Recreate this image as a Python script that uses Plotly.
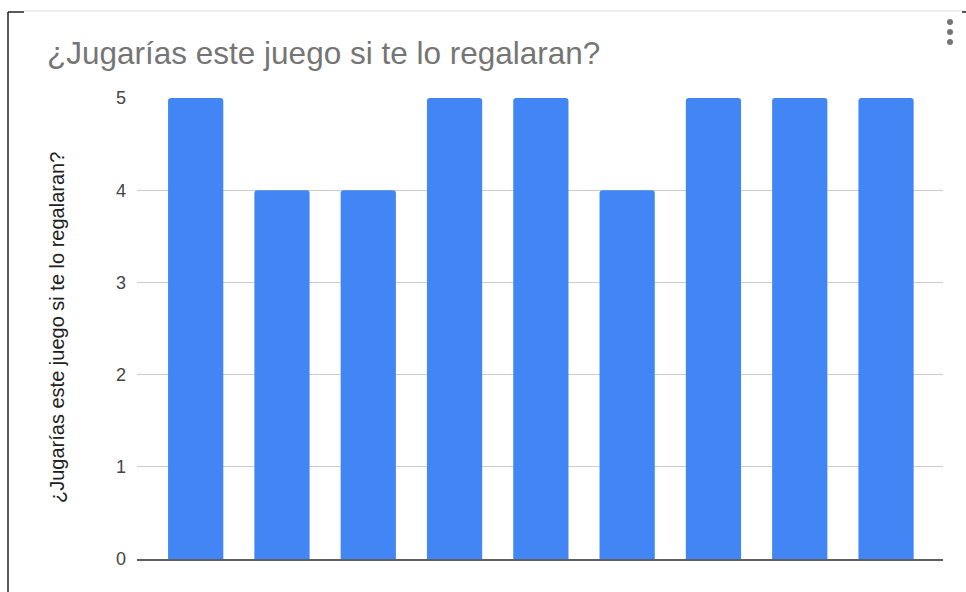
import plotly.graph_objects as go

# Responses per participant
respondents = ["1", "2", "3", "4", "5", "6", "7", "8", "9"]
scores = [5, 4, 4, 5, 5, 4, 5, 5, 5]
y_ticks = [0, 1, 2, 3, 4, 5]

title_text = "¿Jugarías este juego si te lo regalaran?"
axis_title = "¿Jugarías este juego si te lo regalaran?"

FONT = "Liberation Sans, Arial, sans-serif"

W, H = 966, 592
L, R, T, B = 137, 23, 98, 33
PW, PH = W - L - R, H - T - B


def px(x):
    return (x - L) / PW


def py(y):
    return (H - B - y) / PH


fig = go.Figure(
    go.Bar(
        x=respondents,
        y=scores,
        marker=dict(color="#4285F4", cornerradius=3, line=dict(width=0)),
        width=0.64,
        hoverinfo="x+y",
    )
)

shapes = [
    # card border fragments
    dict(type="line", xref="paper", yref="paper", x0=px(24), x1=px(966), y0=py(11), y1=py(11),
         line=dict(color="#e0e0e0", width=1)),
    dict(type="line", xref="paper", yref="paper", x0=px(8), x1=px(24), y0=py(12), y1=py(12),
         line=dict(color="#222", width=1.5)),
    dict(type="line", xref="paper", yref="paper", x0=px(8), x1=px(8), y0=py(12), y1=py(592),
         line=dict(color="#222", width=1.5)),
    dict(type="line", xref="paper", yref="paper", x0=px(962), x1=px(966), y0=py(12), y1=py(12),
         line=dict(color="#222", width=1.5)),
]
# overflow menu dots
for cy in (22, 32, 42):
    shapes.append(dict(type="circle", xref="paper", yref="paper",
                       x0=px(947), x1=px(953), y0=py(cy + 3), y1=py(cy - 3),
                       fillcolor="#757575", line=dict(width=0)))

fig.update_layout(
    width=W, height=H,
    margin=dict(l=L, r=R, t=T, b=B),
    paper_bgcolor="white", plot_bgcolor="white",
    font=dict(family=FONT),
    showlegend=False,
    title=dict(text=title_text, xref="container", yref="container",
               x=47 / W, xanchor="left", y=1 - 53 / H, yanchor="middle",
               font=dict(size=31.5, color="#757575", family=FONT)),
    xaxis=dict(type="category", range=[-0.68, 8.66], showticklabels=False, showgrid=False,
               showline=True, linecolor="#5f5f5f", linewidth=2, ticks="", zeroline=False,
               fixedrange=True),
    yaxis=dict(range=[0, 5], tickvals=y_ticks, showgrid=True, gridcolor="#cccccc", gridwidth=1,
               zeroline=False, showline=False, ticks="", ticklabelstandoff=10,
               tickfont=dict(size=18, color="#444444", family=FONT), fixedrange=True),
    shapes=shapes,
    annotations=[dict(text=axis_title, textangle=-90, xref="paper", yref="paper",
                      x=px(57), y=py(328), xanchor="center", yanchor="middle", showarrow=False,
                      font=dict(size=20, color="#222222", family=FONT))],
)

fig.write_html("out.html")
